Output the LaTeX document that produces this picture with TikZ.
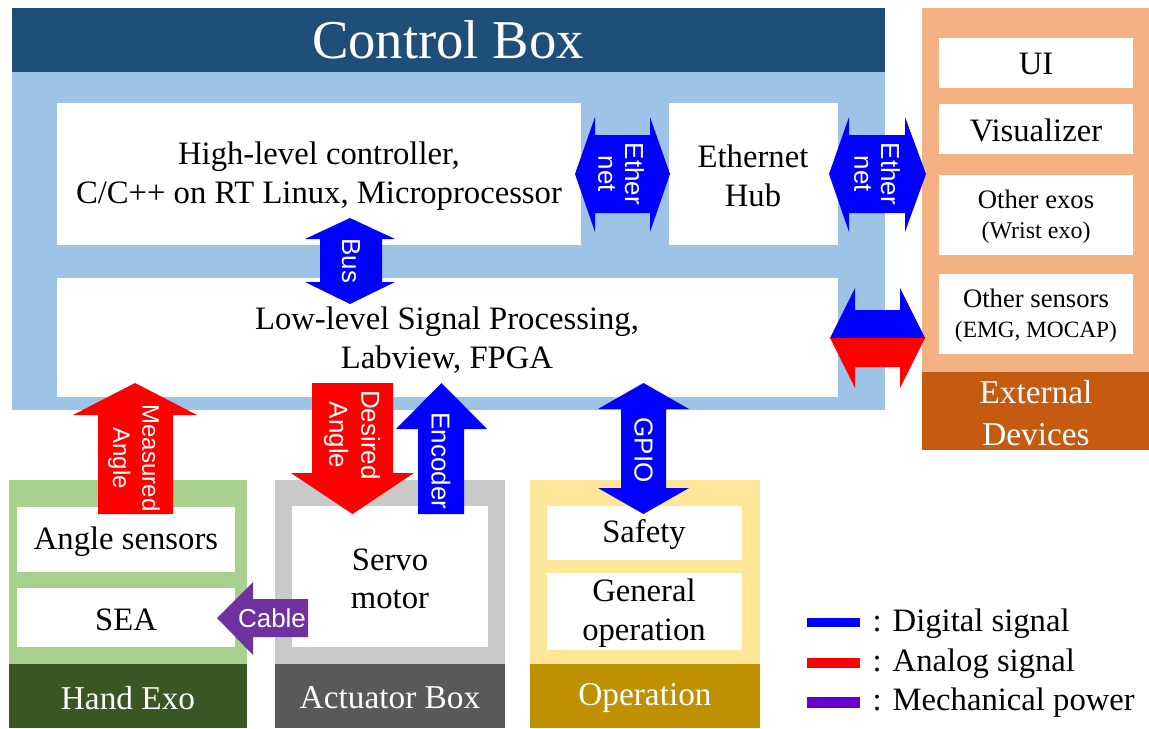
\documentclass[tikz,border=0pt]{standalone}
\usepackage{fontspec}
\setmainfont{Liberation Serif}
\newfontfamily\arialf{Liberation Sans}
\definecolor{cbdark}{HTML}{1F4E79}
\definecolor{cblight}{HTML}{9DC3E6}
\definecolor{exlight}{HTML}{F4B183}
\definecolor{exdark}{HTML}{C55A11}
\definecolor{hlight}{HTML}{A9D18E}
\definecolor{hdark}{HTML}{385723}
\definecolor{alight}{HTML}{C9C9C9}
\definecolor{adark}{HTML}{595959}
\definecolor{olight}{HTML}{FFE699}
\definecolor{odark}{HTML}{BF9000}
\definecolor{digi}{HTML}{0000FF}
\definecolor{anal}{HTML}{FF0000}
\definecolor{mech}{HTML}{7030A0}
\definecolor{mechleg}{HTML}{6600CC}
\begin{document}
\begin{tikzpicture}[x=0.75pt,y=-0.75pt,
  txt/.style={align=center,text=black,font=\fontsize{24.5}{29}\selectfont},
  smtxt/.style={align=center,text=black,font=\fontsize{20}{22.5}\selectfont},
  head/.style={align=center,text=white,font=\fontsize{25}{31}\selectfont},
  albl/.style={align=center,text=white,rotate=-90,font=\arialf\fontsize{19.5}{20}\selectfont},
  legtxt/.style={anchor=west,text=black,font=\fontsize{24.5}{28}\selectfont}]
\useasboundingbox (0,0) rectangle (1149,728);
% Control box
\fill[cbdark] (12,8) rectangle (885,72);
\fill[cblight] (12,72) rectangle (885,410);
\node[text=white,font=\fontsize{41}{48}\selectfont] (cbt) at (448,40) {Control Box};
\fill[white] (57,103) rectangle (581,245);
\node[txt] (hl) at (319,176) {High-level controller,\\C/C++ on RT Linux, Microprocessor};
\fill[white] (669,103) rectangle (838,245);
\node[txt] (hub) at (753,176) {Ethernet\\Hub};
\fill[white] (57,278) rectangle (838,397);
\node[txt] (ll) at (447,340) {Low-level Signal Processing,\\Labview, FPGA};
% External devices
\fill[exlight] (922,8) rectangle (1149,372);
\fill[exdark] (922,372) rectangle (1149,450);
\node[head] (ext) at (1036,413) {External\\Devices};
\fill[white] (939,38) rectangle (1133,88);
\node[txt] (ui) at (1036,64) {UI};
\fill[white] (939,104) rectangle (1133,154);
\node[txt] (vis) at (1036,130) {Visualizer};
\fill[white] (939,175) rectangle (1133,255);
\node[smtxt] (exo) at (1036,217) {Other exos\\{\fontsize{18}{20}\selectfont(Wrist exo)}};
\fill[white] (939,274) rectangle (1133,354);
\node[smtxt] (sens) at (1036,316) {Other sensors\\{\fontsize{17.5}{20}\selectfont(EMG, MOCAP)}};
% Hand exo
\fill[hlight] (9,480) rectangle (247,664);
\fill[hdark] (9,664) rectangle (247,728);
\node[head] (hand) at (128,698) {Hand Exo};
\fill[white] (17,507) rectangle (235,572);
\node[txt] (ang) at (126,542) {Angle sensors};
\fill[white] (17,588) rectangle (235,647);
\node[txt] (sea) at (126,620) {SEA};
% Actuator box
\fill[alight] (275,480) rectangle (505,664);
\fill[adark] (275,664) rectangle (505,728);
\node[head] (act) at (390,698) {Actuator Box};
\fill[white] (292,506) rectangle (488,647);
\node[txt] (servo) at (390,579) {Servo\\motor};
% Operation
\fill[olight] (530,480) rectangle (760,664);
\fill[odark] (530,664) rectangle (760,728);
\node[head] (op) at (645,698) {Operation};
\fill[white] (547,506) rectangle (742,560);
\node[txt] (safe) at (644,535) {Safety};
\fill[white] (547,573) rectangle (742,650);
\node[txt] (gen) at (644,613) {General\\operation};
% Ethernet arrows
\fill[digi] (575,174) -- (595,117) -- (595,135) -- (650,135) -- (650,117) -- (670,174) -- (650,232) -- (650,213) -- (595,213) -- (595,232) -- cycle;
\node[albl] (eth1) at (621,174) {Ether\\net};
\fill[digi] (829,174) -- (849,117) -- (849,135) -- (905,135) -- (905,117) -- (926,174) -- (905,232) -- (905,213) -- (849,213) -- (849,232) -- cycle;
\node[albl] (eth2) at (877,174) {Ether\\net};
% Bus
\fill[digi] (350,218) -- (395,239) -- (382,239) -- (382,282) -- (395,282) -- (350,304) -- (305,282) -- (320,282) -- (320,239) -- (305,239) -- cycle;
\node[albl] (bus) at (351,261) {Bus};
% Analog/digital double arrow
\fill[digi] (830,338) -- (855,288) -- (855,310) -- (900,310) -- (900,288) -- (925,338) -- cycle;
\fill[anal] (830,338) -- (925,338) -- (900,388) -- (900,367) -- (855,367) -- (855,388) -- cycle;
% Measured angle
\fill[anal] (135,383) -- (197,415) -- (173,415) -- (173,514) -- (98,514) -- (98,415) -- (73,415) -- cycle;
\node[albl,font=\arialf\fontsize{18}{22}\selectfont] (meas) at (134,458) {Measured\\Angle};
% Desired angle
\fill[anal] (312,383) -- (393,383) -- (393,473) -- (414,473) -- (352.5,514) -- (291,473) -- (312,473) -- cycle;
\node[albl,font=\arialf\fontsize{19.5}{24}\selectfont] (des) at (352,435) {Desired\\Angle};
% Encoder
\fill[digi] (441.5,383) -- (487,429) -- (464,429) -- (464,514) -- (418,514) -- (418,429) -- (396,429) -- cycle;
\node[albl] (enc) at (441,461) {Encoder};
% GPIO
\fill[digi] (643.5,383) -- (689,409) -- (666,409) -- (666,488) -- (689,488) -- (643.5,514) -- (598,488) -- (621,488) -- (621,409) -- (598,409) -- cycle;
\node[albl] (gpio) at (643.5,450) {GPIO};
% Cable
\fill[mech] (217,618) -- (253,582) -- (253,599) -- (308,599) -- (308,637) -- (253,637) -- (253,655) -- cycle;
\node[text=white,font=\arialf\fontsize{19.5}{20}\selectfont] (cable) at (272,618) {Cable};
% Legend
\fill[digi] (807,618) rectangle (860,627);
\node[legtxt] (l1) at (868,624) {: Digital signal};
\fill[anal] (807,658) rectangle (860,668);
\node[legtxt] (l2) at (868,664) {: Analog signal};
\fill[mechleg] (807,697) rectangle (860,708);
\node[legtxt] (l3) at (868,703) {: Mechanical power};
\end{tikzpicture}
\end{document}
